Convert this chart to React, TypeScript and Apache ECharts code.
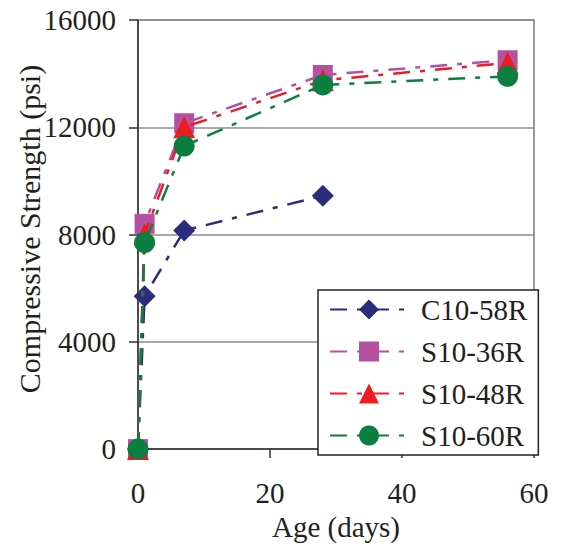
import React, { useEffect, useRef } from 'react';
import * as echarts from 'echarts';

const seriesNames = ['C10-58R', 'S10-36R', 'S10-48R', 'S10-60R'];
const agesC = [0, 1, 7, 28];
const agesS = [0, 1, 7, 28, 56];
const c1058 = [0, 5700, 8150, 9450];
const s1036 = [0, 8400, 12150, 13950, 14500];
const s1048 = [0, 8000, 12000, 13750, 14400];
const s1060 = [0, 7700, 11300, 13580, 13900];
const yTicks = [0, 4000, 8000, 12000, 16000];
const xTicks = [0, 20, 40, 60];

const colors = ['#2B2C7C', '#B5519F', '#ED1C24', '#0B7F3F'];
const symbols = ['diamond', 'rect', 'triangle', 'circle'];
const symbolSizes = [22, 20, 22, 21];
const FONT = '"Liberation Serif", "Times New Roman", serif';
const FS = 29;
const TXT = '#231F20';

export default function App() {
  const ref = useRef<HTMLDivElement>(null);
  useEffect(() => {
    if (!ref.current) return;
    const chart = echarts.init(ref.current, undefined, { renderer: 'svg' });
    const xs = [agesC, agesS, agesS, agesS];
    const ys = [c1058, s1036, s1048, s1060];
    const series = seriesNames.map((name, i) => ({
      name,
      type: 'line',
      data: xs[i].map((x, j) => [x, ys[i][j]]),
      symbol: symbols[i],
      symbolSize: symbolSizes[i],
      color: colors[i],
      lineStyle: { color: colors[i], width: 2.5, type: [17, 10, 5, 10] },
      itemStyle: { color: colors[i] },
      z: 2 + i,
    }));
    chart.setOption({
      animation: false,
      backgroundColor: '#fff',
      grid: {
        left: 138,
        right: 27,
        top: 20,
        bottom: 92,
        show: true,
        borderColor: '#999',
        borderWidth: 2,
      },
      xAxis: {
        type: 'value',
        min: xTicks[0],
        max: xTicks[xTicks.length - 1],
        interval: 20,
        name: 'Age (days)',
        nameLocation: 'middle',
        nameGap: 50,
        nameTextStyle: { fontFamily: FONT, fontSize: FS, color: TXT },
        axisLine: { show: true, lineStyle: { color: '#333', width: 1.5 } },
        axisTick: { show: true, length: 9, lineStyle: { color: '#333', width: 1.5 } },
        axisLabel: { margin: 29, fontFamily: FONT, fontSize: FS, color: TXT },
        splitLine: { show: false },
      },
      yAxis: {
        type: 'value',
        min: yTicks[0],
        max: yTicks[yTicks.length - 1],
        interval: 4000,
        axisLine: { show: true, lineStyle: { color: '#333', width: 1.5 } },
        axisTick: { show: true, length: 9, lineStyle: { color: '#333', width: 1.5 } },
        axisLabel: {
          margin: 22,
          fontFamily: FONT,
          fontSize: FS,
          color: TXT,
          formatter: (v: number) => String(v),
        },
        splitLine: { show: true, lineStyle: { color: '#8c8c8c', width: 1.5 } },
      },
      legend: {
        orient: 'vertical',
        left: 318,
        top: 290,
        padding: [5, 11, 5, 11],
        itemWidth: 78,
        itemHeight: 25,
        itemGap: 13,
        borderColor: '#231F20',
        borderWidth: 1.5,
        backgroundColor: '#fff',
        textStyle: { fontFamily: FONT, fontSize: FS, color: TXT, padding: [0, 0, 0, 8] },
        data: seriesNames,
        z: 10,
      },
      graphic: [
        {
          type: 'text',
          x: 29,
          y: 229,
          rotation: Math.PI / 2,
          style: {
            text: 'Compressive Strength (psi)',
            font: '30px ' + FONT,
            fill: TXT,
            align: 'center',
            verticalAlign: 'middle',
          },
        },
      ],
      series,
    });
    return () => chart.dispose();
  }, []);
  return (
    <div
      ref={ref}
      style={{ position: 'fixed', left: 0, top: 0, width: 561, height: 546 }}
    />
  );
}
